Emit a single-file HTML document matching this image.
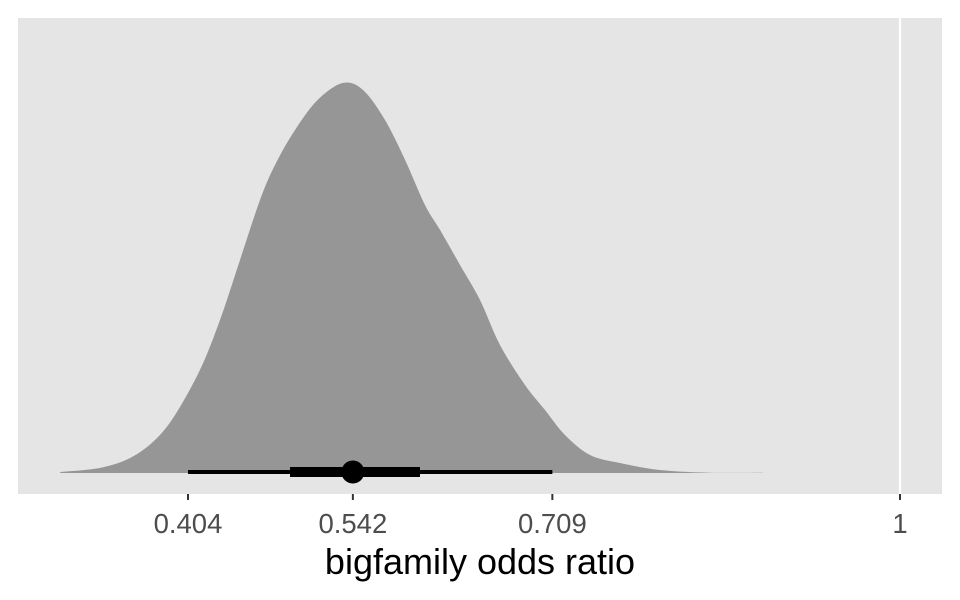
<!DOCTYPE html>
<html><head><meta charset="utf-8"><style>
html,body{margin:0;padding:0;background:#fff;}
svg{display:block;font-family:"Liberation Sans",Arial,sans-serif;}
</style></head><body>
<svg id="chart" width="960" height="600">
<rect x="18" y="18" width="924" height="476" fill="#e5e5e5"/>
<g id="grid"></g>
<path id="density" fill="#969696"/>
<g id="interval"></g>
<g id="axis"></g>
<text x="480" y="574" text-anchor="middle" font-size="36" fill="#000">bigfamily odds ratio</text>
</svg>
<script>
const densityX=[0.297,0.330,0.3555,0.3764,0.3931,0.414,0.4308,0.4475,0.4643,0.4768,0.4936,0.5125,0.5335,0.5505,0.5689,0.5857,0.6024,0.615,0.6317,0.6484,0.6652,0.6861,0.7028,0.7196,0.7405,0.7656,0.7991,0.841,0.8853];
const densityY=[1,5,15,33,58,103,153,213,273,308,343,373,390,383,353,313,268,243,208,173,128,88,63,38,18,10,3,0.3,0.3];
const tickValues=[0.404,0.542,0.709,1];
const tickLabels=["0.404","0.542","0.709","1"];
const pointEstimate=[0.542];
const innerInterval=[0.4894,0.5982];
const outerInterval=[0.404,0.709];

const x=v=>188+(v-0.404)*(712/0.596);
const baseY=473;
const y=h=>baseY-h;
const NS="http://www.w3.org/2000/svg";
function mk(tag,attrs,parent){const e=document.createElementNS(NS,tag);for(const k in attrs)e.setAttribute(k,attrs[k]);parent.appendChild(e);return e;}

const grid=document.getElementById('grid');
const gl=mk('line',{x1:x(1),x2:x(1),y1:18,y2:494,stroke:'#fff','stroke-width':2.2},grid);



const pts=densityX.map((v,i)=>[x(v),y(densityY[i])]);
let d=`M${pts[0][0]},${baseY} L${pts[0][0]},${pts[0][1]}`;
for(let i=0;i<pts.length-1;i++){
  const p0=pts[Math.max(0,i-1)],p1=pts[i],p2=pts[i+1],p3=pts[Math.min(pts.length-1,i+2)];
  const c1=[p1[0]+(p2[0]-p0[0])/6,p1[1]+(p2[1]-p0[1])/6];
  const c2=[p2[0]-(p3[0]-p1[0])/6,p2[1]-(p3[1]-p1[1])/6];
  d+=` C${c1[0].toFixed(1)},${c1[1].toFixed(1)} ${c2[0].toFixed(1)},${c2[1].toFixed(1)} ${p2[0].toFixed(1)},${p2[1].toFixed(1)}`;
}
d+=` L${pts[pts.length-1][0]},${baseY} Z`;
document.getElementById('density').setAttribute('d',d);

const iv=document.getElementById('interval');
const l1=mk('line',{x1:x(outerInterval[0]),x2:x(outerInterval[1]),y1:472,y2:472,stroke:'#000','stroke-width':4},iv);


const l2=mk('line',{x1:x(innerInterval[0]),x2:x(innerInterval[1]),y1:472,y2:472,stroke:'#000','stroke-width':10},iv);


const pt=mk('circle',{cx:x(pointEstimate[0]),cy:472,r:11.5,fill:'#000'},iv);



const ax=document.getElementById('axis');
tickValues.forEach((v,i)=>{
  const t=mk('line',{x1:x(v),x2:x(v),y1:494,y2:500,stroke:'#333','stroke-width':2},ax);
  
  
  const tx=mk('text',{x:x(v),y:533,'text-anchor':'middle','font-size':27.5,fill:'#4d4d4d'},ax);
  tx.textContent=tickLabels[i];
  
  
});
</script>
</body></html>
